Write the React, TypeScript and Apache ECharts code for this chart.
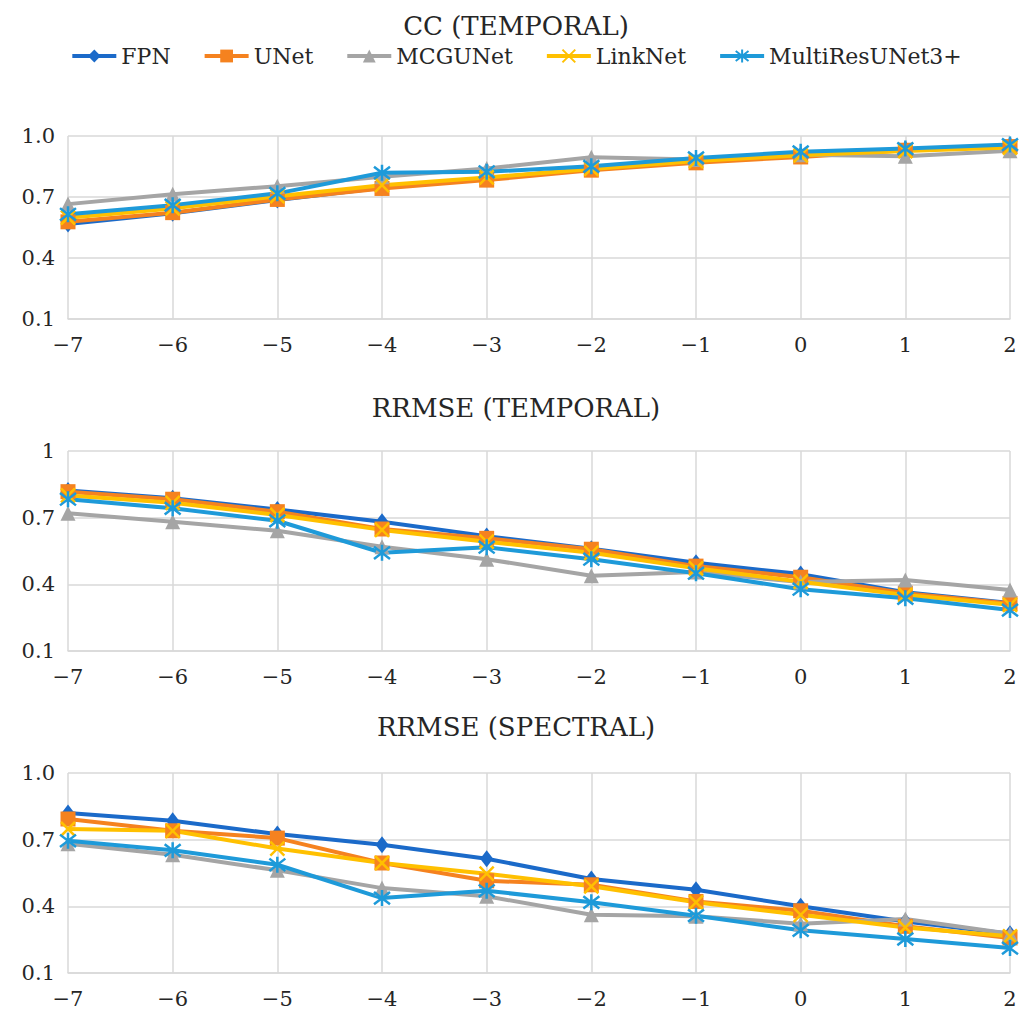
import React, { useEffect, useRef } from "react";
import * as echarts from "echarts";

const categories = ["\u22127", "\u22126", "\u22125", "\u22124", "\u22123", "\u22122", "\u22121", "0", "1", "2"];
const seriesNames = ["FPN", "UNet", "MCGUNet", "LinkNet", "MultiResUNet3+"];
const yTicks = [0.1, 0.4, 0.7, 1.0];
const chartTitles = ["CC (TEMPORAL)", "RRMSE (TEMPORAL)", "RRMSE (SPECTRAL)"];

// CC (temporal)
const ccFPN = [0.567, 0.62, 0.685, 0.745, 0.79, 0.84, 0.875, 0.905, 0.935, 0.955];
const ccUNet = [0.578, 0.623, 0.688, 0.742, 0.783, 0.832, 0.868, 0.897, 0.93, 0.948];
const ccMCGUNet = [0.665, 0.714, 0.753, 0.8, 0.84, 0.895, 0.885, 0.908, 0.9, 0.928];
const ccLinkNet = [0.598, 0.644, 0.704, 0.758, 0.796, 0.838, 0.877, 0.905, 0.926, 0.943];
const ccMRU = [0.615, 0.66, 0.718, 0.819, 0.824, 0.851, 0.892, 0.922, 0.938, 0.958];

// RRMSE (temporal)
const rtFPN = [0.822, 0.787, 0.737, 0.682, 0.617, 0.56, 0.497, 0.446, 0.364, 0.316];
const rtUNet = [0.817, 0.783, 0.727, 0.649, 0.607, 0.558, 0.482, 0.432, 0.36, 0.314];
const rtMCGUNet = [0.72, 0.682, 0.641, 0.569, 0.513, 0.439, 0.455, 0.41, 0.42, 0.374];
const rtLinkNet = [0.8, 0.767, 0.712, 0.645, 0.592, 0.542, 0.472, 0.412, 0.352, 0.308];
const rtMRU = [0.783, 0.742, 0.686, 0.542, 0.567, 0.513, 0.45, 0.378, 0.337, 0.284];

// RRMSE (spectral)
const rsFPN = [0.82, 0.785, 0.725, 0.677, 0.614, 0.523, 0.475, 0.4, 0.332, 0.277];
const rsUNet = [0.793, 0.74, 0.707, 0.595, 0.515, 0.497, 0.422, 0.38, 0.31, 0.258];
const rsMCGUNet = [0.682, 0.632, 0.562, 0.482, 0.445, 0.362, 0.355, 0.322, 0.343, 0.277];
const rsLinkNet = [0.748, 0.74, 0.66, 0.595, 0.547, 0.49, 0.418, 0.362, 0.305, 0.265];
const rsMRU = [0.695, 0.652, 0.587, 0.437, 0.47, 0.418, 0.358, 0.292, 0.253, 0.212];

const panels = [
  [ccFPN, ccUNet, ccMCGUNet, ccLinkNet, ccMRU],
  [rtFPN, rtUNet, rtMCGUNet, rtLinkNet, rtMRU],
  [rsFPN, rsUNet, rsMCGUNet, rsLinkNet, rsMRU],
];

const FONT = "DejaVu Serif";
const colors = ["#1b6ac9", "#f5821f", "#a5a5a5", "#ffc000", "#1e9ad9"];
const symbols = [
  "diamond",
  "rect",
  "triangle",
  "path://M0,0L10,10M10,0L0,10",
  "path://M0,0L10,10M10,0L0,10M5,-1.5L5,11.5",
];
const symbolSizes = [[13, 17], 15, 15, 14, 16];
const gridTops = [136, 451, 773];
const gridHeights = [183, 200, 200];
const titleTops = [8, 390, 709];

export default function App() {
  const ref = useRef<HTMLDivElement>(null);
  useEffect(() => {
    document.body.style.margin = "0";
    if (!ref.current) return;
    const chart = echarts.init(ref.current, undefined, { renderer: "svg" });
    const grid = gridTops.map((t, i) => ({ left: 68, right: 22, top: t, height: gridHeights[i] }));
    const gridLine = { color: "#d9d9d9", width: 1.5 };
    const xAxis = gridTops.map((_, i) => ({
      type: "category",
      gridIndex: i,
      data: categories,
      boundaryGap: false,
      axisLine: { show: true, lineStyle: gridLine },
      axisTick: { show: false },
      splitLine: { show: true, lineStyle: gridLine },
      axisLabel: { fontFamily: FONT, fontSize: 21, color: "#262626", margin: 15 },
    }));
    const yAxis = gridTops.map((_, i) => ({
      type: "value",
      gridIndex: i,
      min: 0.1,
      max: 1.0,
      axisLine: { show: false },
      axisTick: { show: false, customValues: yTicks },
      splitLine: { show: true, lineStyle: gridLine },
      axisLabel: {
        customValues: yTicks,
        fontFamily: FONT,
        fontSize: 21,
        color: "#262626",
        margin: 13,
        formatter: (v: number) => (i === 1 && Math.abs(v - 1) < 1e-9 ? "1" : v.toFixed(1)),
      },
    }));
    const series: any[] = [];
    panels.forEach((panel, p) => {
      panel.forEach((data, s) => {
        const isStroke = s >= 3;
        series.push({
          type: "line",
          name: seriesNames[s],
          xAxisIndex: p,
          yAxisIndex: p,
          data,
          symbol: symbols[s],
          symbolSize: symbolSizes[s],
          showAllSymbol: true,
          lineStyle: { color: colors[s], width: 4 },
          itemStyle: isStroke
            ? { color: colors[s], borderColor: colors[s], borderWidth: 2.5 }
            : { color: colors[s], borderWidth: 0 },
          emphasis: { disabled: true },
        });
      });
    });
    chart.setOption({
      animation: false,
      title: chartTitles.map((t, i) => ({
        text: t,
        left: "center",
        top: titleTops[i],
        textStyle: { fontFamily: FONT, fontSize: 26, fontWeight: "normal", color: "#262626" },
      })),
      legend: {
        top: 40,
        left: "center",
        data: seriesNames,
        itemWidth: 44,
        itemHeight: 16,
        itemGap: 32,
        lineStyle: { width: 4 },
        textStyle: { fontFamily: FONT, fontSize: 22, color: "#262626" },
      },
      grid,
      xAxis,
      yAxis,
      series,
    });
    return () => chart.dispose();
  }, []);
  return <div ref={ref} style={{ width: 1032, height: 1018 }} />;
}
